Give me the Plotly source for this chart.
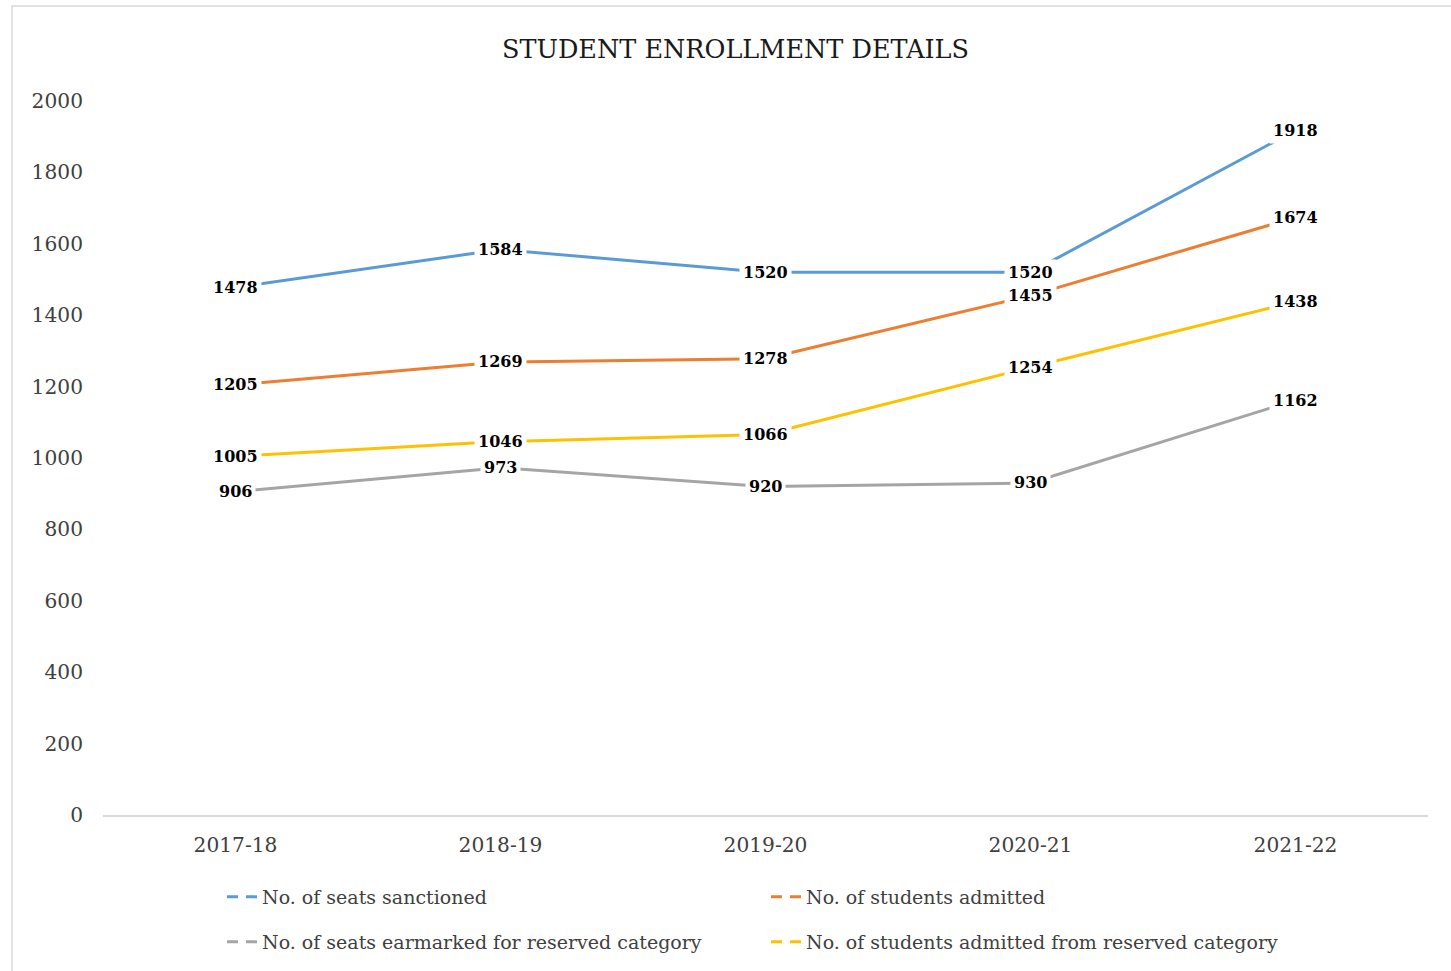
import plotly.graph_objects as go

years = ["2017-18", "2018-19", "2019-20", "2020-21", "2021-22"]
seats_sanctioned = [1478, 1584, 1520, 1520, 1918]
students_admitted = [1205, 1269, 1278, 1455, 1674]
seats_reserved = [906, 973, 920, 930, 1162]
admitted_reserved = [1005, 1046, 1066, 1254, 1438]

series_names = [
    "No. of seats sanctioned",
    "No. of students admitted",
    "No. of seats earmarked for reserved category",
    "No. of students admitted from reserved category",
]
series_values = [seats_sanctioned, students_admitted, seats_reserved, admitted_reserved]
colors = ["#5B9BD5", "#ED7D31", "#A5A5A5", "#FFC000"]
legend_ids = ["legend", "legend", "legend2", "legend2"]

FONT = "DejaVu Serif"
W, H = 1451, 971
ML, MR, MT, MB = 103, 23, 101, 156
PW, PH = W - ML - MR, H - MT - MB

def px_x(p):
    return (p - ML) / PW

def px_y(p):
    return (H - MB - p) / PH

fig = go.Figure()

for name, vals, col in zip(series_names, series_values, colors):
    fig.add_trace(go.Scatter(
        x=years, y=vals, mode="lines", name=name,
        line=dict(color=col, width=3), showlegend=False, hoverinfo="x+y",
    ))

for name, col, lg in zip(series_names, colors, legend_ids):
    fig.add_trace(go.Scatter(
        x=[None], y=[None], mode="lines", name=name,
        line=dict(color=col, width=3, dash="11px,8px"), legend=lg,
    ))

annotations = []
for vals in series_values:
    for xv, yv in zip(years, vals):
        annotations.append(dict(
            x=xv, y=yv, xref="x", yref="y", text=str(yv), showarrow=False,
            font=dict(family=FONT, size=16, color="#000000", weight="bold"),
            bgcolor="white", borderpad=3, xanchor="center", yanchor="middle",
        ))

legend_font = dict(family=FONT, size=19, color="#404040")

fig.update_layout(
    width=W, height=H,
    margin=dict(l=ML, r=MR, t=MT, b=MB, autoexpand=False),
    paper_bgcolor="white", plot_bgcolor="white",
    font=dict(family=FONT, color="#404040"),
    title=dict(
        text="STUDENT ENROLLMENT DETAILS",
        x=735.5 / W, xanchor="center", xref="container",
        y=1 - 49 / H, yanchor="middle", yref="container",
        font=dict(family=FONT, size=25.5, color="#1a1a1a"),
    ),
    xaxis=dict(
        type="category", range=[-0.5, 4.5], showgrid=False,
        showline=True, linecolor="#D9D9D9", linewidth=1.5,
        ticks="", ticklabelstandoff=11, zeroline=False,
        tickfont=dict(family=FONT, size=20.2, color="#404040"),
    ),
    yaxis=dict(
        range=[0, 2000], dtick=200, showgrid=False, showline=False,
        zeroline=False, ticks="", ticklabelstandoff=19,
        tickfont=dict(family=FONT, size=20.2, color="#404040"),
    ),
    legend=dict(
        orientation="h", x=px_x(222), xanchor="left", y=px_y(897), yanchor="middle",
        entrywidth=499, entrywidthmode="pixels",
        font=legend_font, bgcolor="rgba(0,0,0,0)",
    ),
    legend2=dict(
        orientation="h", x=px_x(222), xanchor="left", y=px_y(942), yanchor="middle",
        entrywidth=499, entrywidthmode="pixels",
        font=legend_font, bgcolor="rgba(0,0,0,0)",
    ),
    annotations=annotations,
    shapes=[dict(
        type="rect", xref="paper", yref="paper",
        x0=px_x(12), x1=px_x(1470), y0=px_y(990), y1=px_y(6),
        line=dict(color="#D9D9D9", width=1.5), fillcolor="rgba(0,0,0,0)", layer="below",
    )],
    hovermode="closest",
)

fig.write_html(
    "out.html",
    config={"displayModeBar": False},
    post_script="document.body.style.margin='0';document.body.style.overflow='hidden';",
)
